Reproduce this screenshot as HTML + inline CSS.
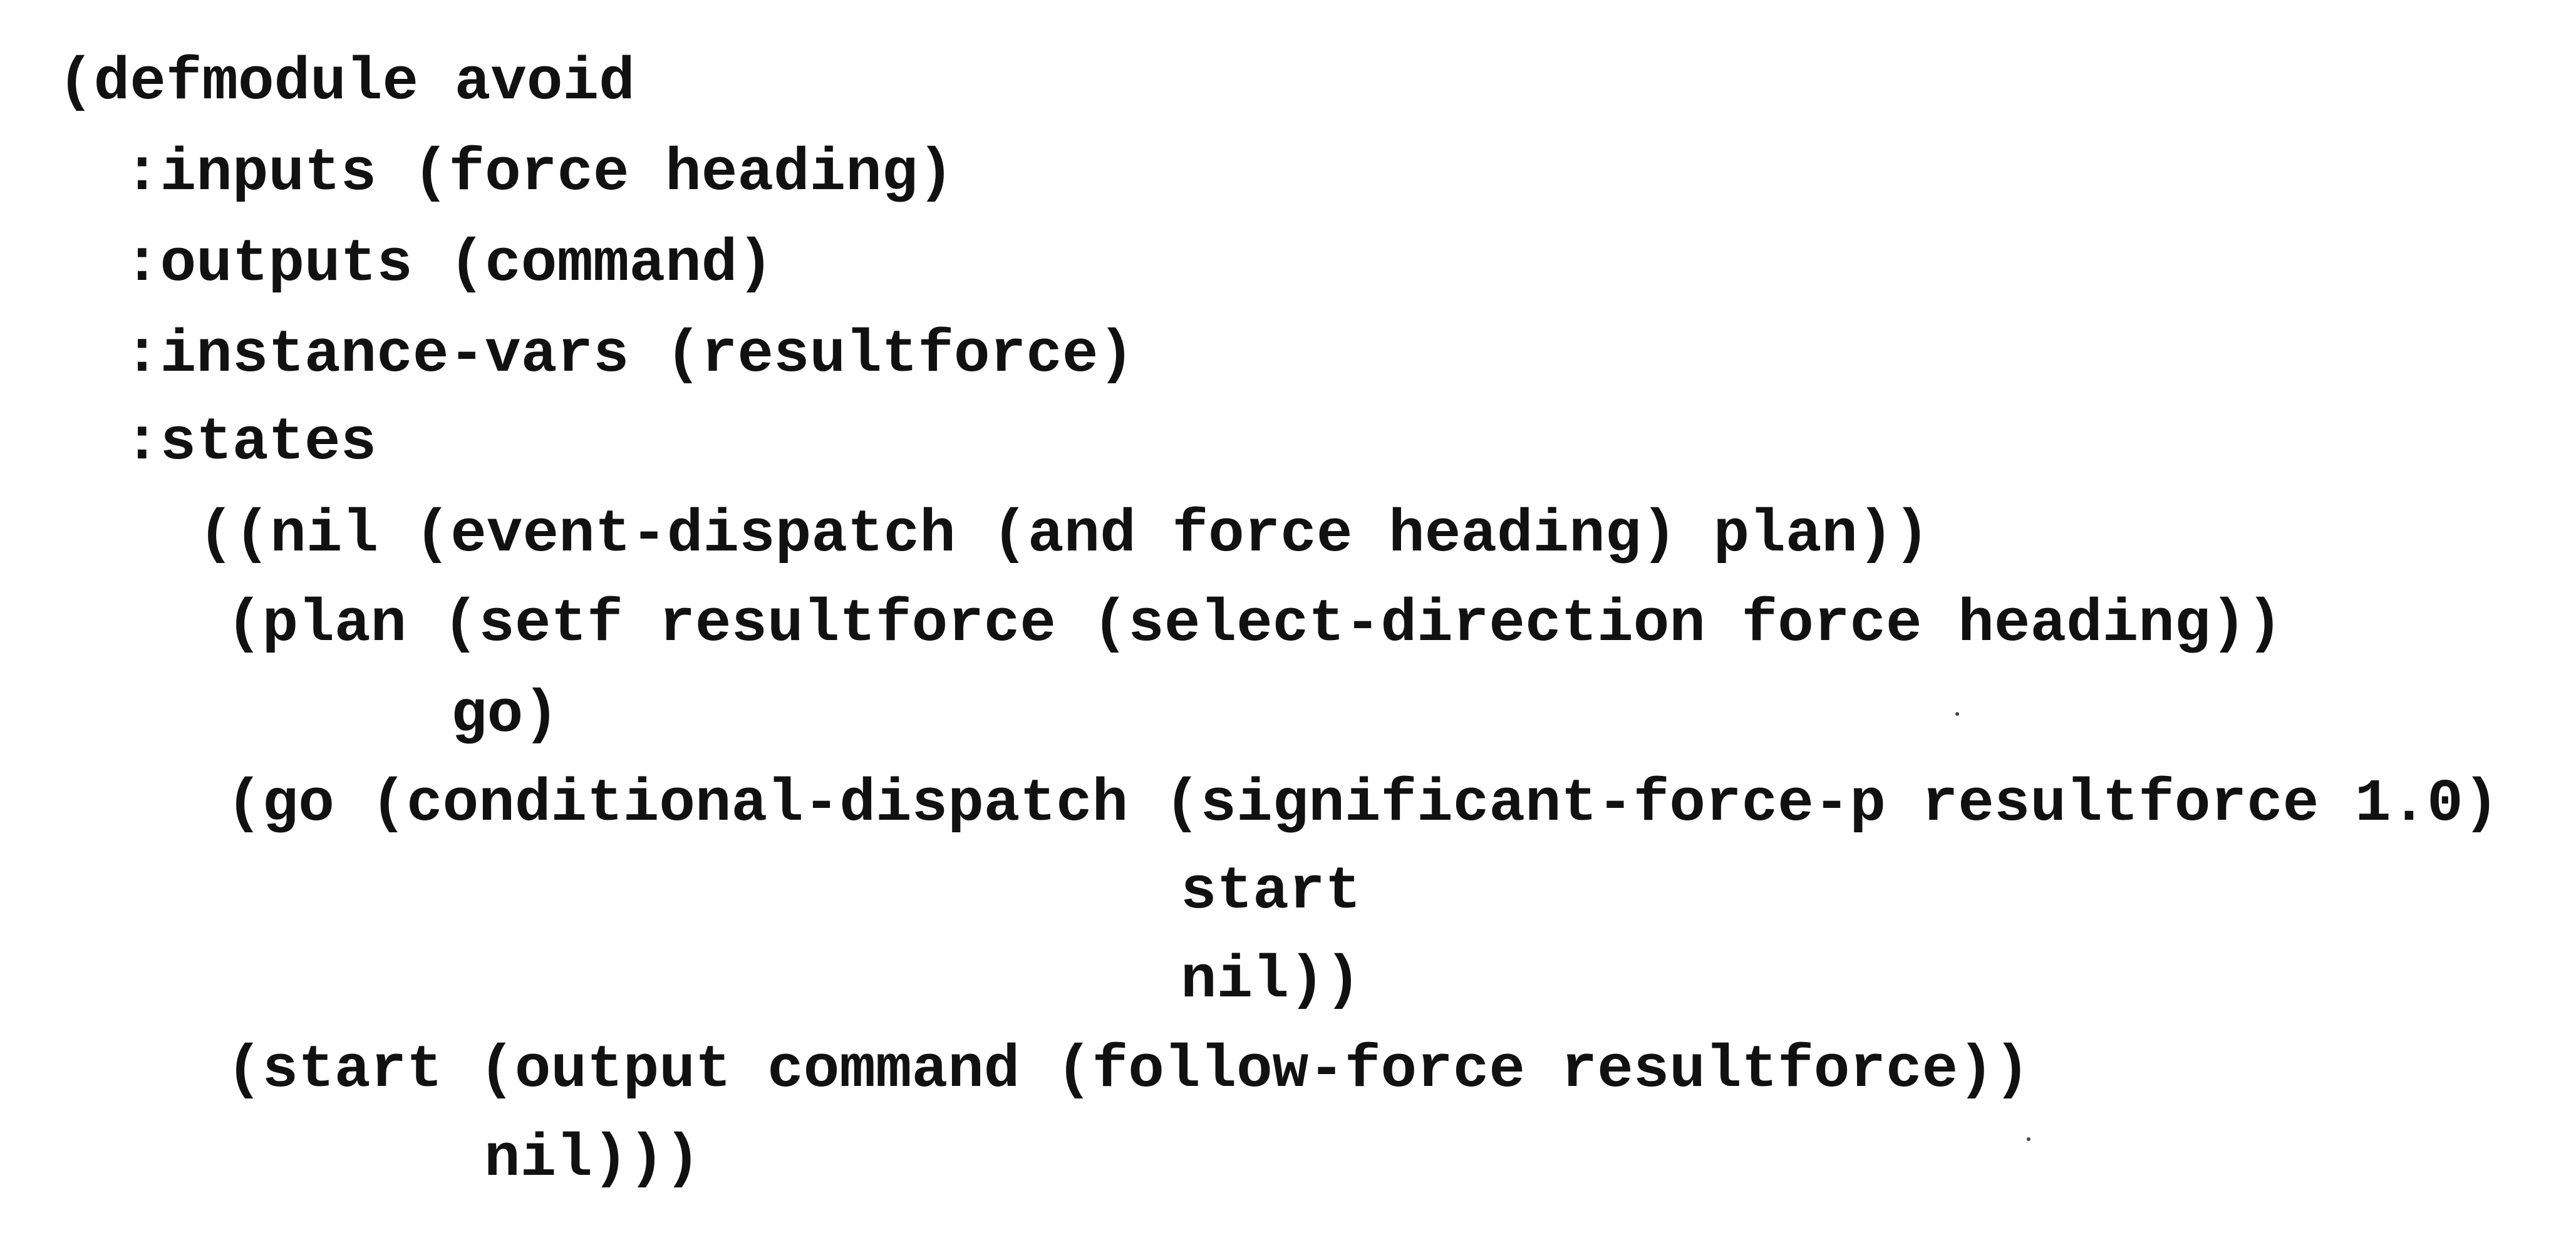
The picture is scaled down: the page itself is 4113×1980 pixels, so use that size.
<!DOCTYPE html>
<html><head><meta charset="utf-8"><style>
html,body{margin:0;padding:0;background:#fff;}
body{width:4113px;height:1980px;position:relative;overflow:hidden;}
.l{position:absolute;font-family:"Liberation Mono",monospace;font-weight:bold;font-size:96px;line-height:96px;color:#111;white-space:pre;}
.d{position:absolute;width:6px;height:6px;border-radius:3px;background:#444;}
</style></head><body>
<div class="l" style="left:92px;top:84px">(defmodule avoid</div>
<div class="l" style="left:198px;top:229px">:inputs (force heading)</div>
<div class="l" style="left:198px;top:374px">:outputs (command)</div>
<div class="l" style="left:198px;top:519px">:instance-vars (resultforce)</div>
<div class="l" style="left:198px;top:659px">:states</div>
<div class="l" style="left:316px;top:806px">((nil (event-dispatch (and force heading) plan))</div>
<div class="l" style="left:361px;top:949px">(plan (setf resultforce (select-direction force heading))</div>
<div class="l" style="left:720px;top:1094px">go)</div>
<div class="l" style="left:361px;top:1236px">(go (conditional-dispatch (significant-force-p resultforce 1.0)</div>
<div class="l" style="left:1885px;top:1376px">start</div>
<div class="l" style="left:1885px;top:1518px">nil))</div>
<div class="l" style="left:361px;top:1661px">(start (output command (follow-force resultforce))</div>
<div class="l" style="left:773px;top:1803px">nil)))</div>
<div class="d" style="left:3122px;top:1137px"></div>
<div class="d" style="left:3236px;top:1816px"></div>
</body></html>
